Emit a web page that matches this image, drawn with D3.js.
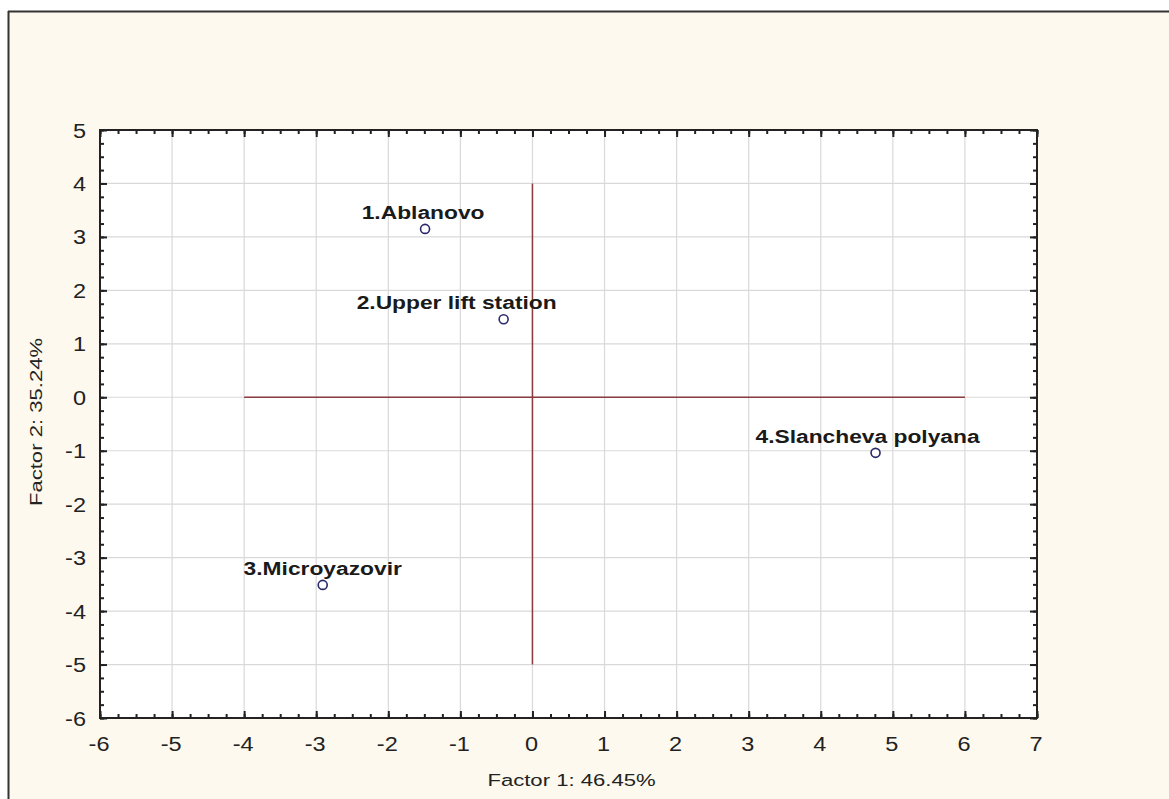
<!DOCTYPE html>
<html>
<head>
<meta charset="utf-8">
<script src="https://cdn.jsdelivr.net/npm/d3@7"></script>
<style>
html,body{margin:0;padding:0;background:#fff;}
svg{display:block;}
</style>
</head>
<body>
<script>
// ---- data ----
const labels = ["1.Ablanovo", "2.Upper lift station", "3.Microyazovir", "4.Slancheva polyana"];
const factor1 = [-1.49, -0.40, -2.91, 4.76];
const factor2 = [3.15, 1.46, -3.51, -1.04];
const xTicks = [-6, -5, -4, -3, -2, -1, 0, 1, 2, 3, 4, 5, 6, 7];
const yTicks = [-6, -5, -4, -3, -2, -1, 0, 1, 2, 3, 4, 5];
const xTitle = "Factor 1: 46.45%";
const yTitle = "Factor 2: 35.24%";
const hLine = {x1: -4, x2: 6, y: 0};
const vLine = {y1: -5, y2: 4, x: 0};

// ---- layout ----
const W = 1169, H = 799;
const plot = {left: 100, right: 1037, top: 130, bottom: 718};
const labelShift = [-2, -47, 0, -8];

const svg = d3.select("body").append("svg").attr("width", W).attr("height", H);
svg.append("rect").attr("x", 8).attr("y", 11).attr("width", W - 8).attr("height", H - 11).attr("fill", "#fdf9ee");
svg.append("line").attr("x1", 8).attr("x2", W).attr("y1", 11.5).attr("y2", 11.5).attr("stroke", "#333").attr("stroke-width", 2);
svg.append("line").attr("x1", 8.5).attr("x2", 8.5).attr("y1", 11).attr("y2", H).attr("stroke", "#333").attr("stroke-width", 2);

const x = d3.scaleLinear().domain([-6, 7]).range([plot.left, plot.right]);
const y = d3.scaleLinear().domain([-6, 5]).range([plot.bottom, plot.top]);

svg.append("rect").attr("x", plot.left).attr("y", plot.top)
  .attr("width", plot.right - plot.left).attr("height", plot.bottom - plot.top).attr("fill", "#fff");

// grid
const g = svg.append("g");
g.selectAll(".vg").data(xTicks.slice(1, -1)).join("line")
  .attr("x1", d => x(d)).attr("x2", d => x(d)).attr("y1", plot.top).attr("y2", plot.bottom)
  .attr("stroke", "#d9d9d9").attr("stroke-width", 1.2);
g.selectAll(".hg").data(yTicks.slice(1, -1)).join("line")
  .attr("x1", plot.left).attr("x2", plot.right).attr("y1", d => y(d)).attr("y2", d => y(d))
  .attr("stroke", "#d9d9d9").attr("stroke-width", 1.2);

// reference lines
svg.append("line").attr("x1", x(hLine.x1)).attr("x2", x(hLine.x2)).attr("y1", y(hLine.y)).attr("y2", y(hLine.y))
  .attr("stroke", "#8b3a3f").attr("stroke-width", 1.5);
svg.append("line").attr("x1", x(vLine.x)).attr("x2", x(vLine.x)).attr("y1", y(vLine.y1)).attr("y2", y(vLine.y2))
  .attr("stroke", "#8b3a3f").attr("stroke-width", 1.5);

// axes with inward ticks
const minorX = d3.range(-6, 7.001, 0.25);
const minorY = d3.range(-6, 5.001, 0.25);
function addAxis(axisGen, transform) {
  const a = svg.append("g").attr("transform", transform).call(axisGen);
  a.select(".domain").remove();
  a.selectAll("line").attr("stroke", "#222").attr("stroke-width", 2);
  return a;
}
addAxis(d3.axisBottom(x).tickValues(minorX).tickSize(-4).tickFormat(""), `translate(0,${plot.bottom})`);
addAxis(d3.axisBottom(x).tickValues(xTicks).tickSize(-7).tickFormat(""), `translate(0,${plot.bottom})`);
addAxis(d3.axisTop(x).tickValues(minorX).tickSize(-4).tickFormat(""), `translate(0,${plot.top})`);
addAxis(d3.axisTop(x).tickValues(xTicks).tickSize(-7).tickFormat(""), `translate(0,${plot.top})`);
addAxis(d3.axisLeft(y).tickValues(minorY).tickSize(-4).tickFormat(""), `translate(${plot.left},0)`);
addAxis(d3.axisLeft(y).tickValues(yTicks).tickSize(-7).tickFormat(""), `translate(${plot.left},0)`);
addAxis(d3.axisRight(y).tickValues(minorY).tickSize(-4).tickFormat(""), `translate(${plot.right},0)`);
addAxis(d3.axisRight(y).tickValues(yTicks).tickSize(-7).tickFormat(""), `translate(${plot.right},0)`);

// frame
svg.append("rect").attr("x", plot.left).attr("y", plot.top)
  .attr("width", plot.right - plot.left).attr("height", plot.bottom - plot.top)
  .attr("fill", "none").attr("stroke", "#222").attr("stroke-width", 2);

// tick labels
const font = "'Liberation Sans', Arial, sans-serif";
svg.append("g").selectAll("text").data(xTicks).join("text")
  .attr("transform", d => `translate(${x(d) - 1},${plot.bottom + 33}) scale(1.12,1)`)
  .attr("text-anchor", "middle").attr("font-family", font).attr("font-size", 21).attr("fill", "#222")
  .text(d => d);
svg.append("g").selectAll("text").data(yTicks).join("text")
  .attr("transform", d => `translate(${plot.left - 14},${y(d) + 7.5}) scale(1.12,1)`)
  .attr("text-anchor", "end").attr("font-family", font).attr("font-size", 21).attr("fill", "#222")
  .text(d => d);

// axis titles
svg.append("text").attr("transform", `translate(${(plot.left + plot.right) / 2 + 3},786) scale(1.3,1)`)
  .attr("text-anchor", "middle").attr("font-family", font).attr("font-size", 17).attr("fill", "#222")
  .text(xTitle);
svg.append("text").attr("transform", `translate(42,${(plot.top + plot.bottom) / 2 - 2}) rotate(-90) scale(1.3,1)`)
  .attr("text-anchor", "middle").attr("font-family", font).attr("font-size", 17).attr("fill", "#222")
  .text(yTitle);

// points
const pts = labels.map((l, i) => ({label: l, fx: factor1[i], fy: factor2[i], shift: labelShift[i]}));
svg.append("g").selectAll("circle").data(pts).join("circle")
  .attr("cx", d => x(d.fx)).attr("cy", d => y(d.fy)).attr("r", 4.5)
  .attr("fill", "#fff").attr("stroke", "#2a2a6a").attr("stroke-width", 1.6);
svg.append("g").selectAll("text").data(pts).join("text")
  .attr("transform", d => `translate(${x(d.fx) + d.shift},${y(d.fy) - 10}) scale(1.2,1)`)
  .attr("text-anchor", "middle").attr("font-family", font).attr("font-size", 19).attr("font-weight", "bold")
  .attr("fill", "#1a1a1a")
  .text(d => d.label);
</script>
</body>
</html>
